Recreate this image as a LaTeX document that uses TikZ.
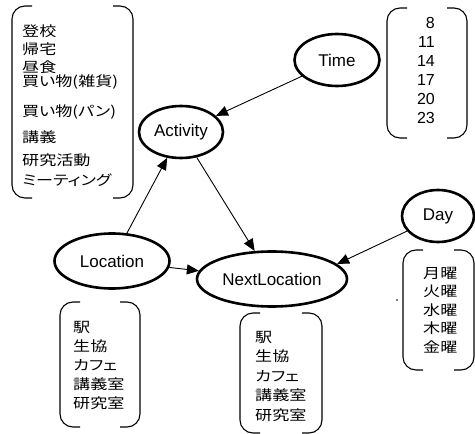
\documentclass[tikz,border=0pt]{standalone}
\usepackage{fontspec}
\setmainfont{Liberation Sans}
\newfontfamily\jpfont{Noto Sans CJK JP}[RawFeature=+palt]
\usetikzlibrary{shapes.geometric,arrows.meta}
\newcommand\jptext[1]{\scalebox{1.22}[1]{\jpfont #1}}
\tikzset{
  var/.style={ellipse, draw=black, line width=2.6pt, inner sep=0pt,
    font=\fontsize{17}{20}\selectfont},
  arr/.style={line width=0.9pt, -{Triangle[length=12pt,width=10pt]}},
  jpitem/.style={anchor=west, inner sep=0pt, font=\fontsize{14}{16}\selectfont},
  numitem/.style={anchor=east, inner sep=0pt, font=\fontsize{16}{18}\selectfont},
  brk/.style={line width=1.1pt, rounded corners=13pt},
}
\begin{document}
\begin{tikzpicture}[x=1pt,y=-1pt]
\useasboundingbox[fill=white] (0,0) rectangle (475,434);

% variables
\node[var, minimum width=85pt, minimum height=52pt] (time) at (337,60) {Time};
\node[var, minimum width=84pt, minimum height=52pt] (activity) at (181,132) {Activity};
\node[var, minimum width=115pt, minimum height=55pt] (location) at (112,261) {Location};
\node[var, minimum width=150pt, minimum height=55pt] (nextloc) at (272,279) {NextLocation};
\node[var, minimum width=72pt, minimum height=52pt] (day) at (438,216) {Day};

% connectors
\draw[arr] (time) -- (activity);
\draw[arr] (location) -- (activity);
\draw[arr] (activity) -- (nextloc);
\draw[arr] (location) -- (nextloc);
\draw[arr] (day.206) -- (nextloc.13);

% bracket boxes
\foreach \xa/\ya/\xb/\yb in {12/6/133/198, 387/8/467/138, 60/302/140/427, 240/313/322/433, 403/250/474/370}{
  \draw[brk] (\xa+20,\ya) -- (\xa,\ya) -- (\xa,\yb) -- (\xa+20,\yb);
  \draw[brk] (\xb-20,\ya) -- (\xb,\ya) -- (\xb,\yb) -- (\xb-20,\yb);
}

% activity values
\foreach \t/\y [count=\i] in {登校/31, 帰宅/49, 昼食/67, 買い物(雑貨)/82, 買い物(パン)/112, 講義/137, 研究活動/160, ミーティング/180}
  \node[jpitem] (act\i) at (22,\y) {\jptext{\t}};

% time values
\foreach \t/\y [count=\i] in {8/23, 11/42, 14/61, 17/80, 20/99, 23/118}
  \node[numitem] (tim\i) at (435,\y) {\t};

% location values
\foreach \t [count=\i] in {駅, 生協, カフェ, 講義室, 研究室}
  \node[jpitem] (loc\i) at (73,{327+19*(\i-1)}) {\jptext{\t}};

% next location values
\foreach \t [count=\i] in {駅, 生協, カフェ, 講義室, 研究室}
  \node[jpitem] (nxt\i) at (255,{337+19.5*(\i-1)}) {\jptext{\t}};

% day values
\foreach \t [count=\i] in {月曜, 火曜, 水曜, 木曜, 金曜}
  \node[jpitem] (day\i) at (423,{273+18.5*(\i-1)}) {\jptext{\t}};

\fill (397,300) circle (0.8pt);
\end{tikzpicture}
\end{document}
